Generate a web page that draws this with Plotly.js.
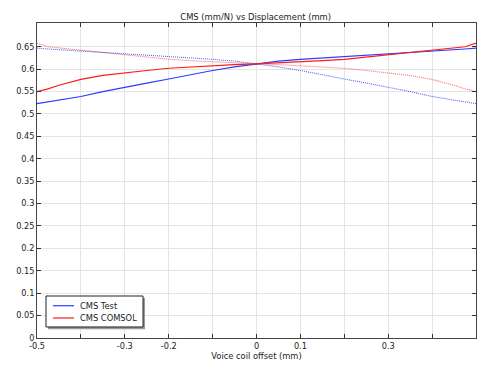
<!DOCTYPE html>
<html><head><meta charset="utf-8">
<script src="https://cdn.plot.ly/plotly-3.0.1.min.js"></script>
<style>html,body{margin:0;padding:0;background:#fff}#chart{width:487px;height:366px}</style>
</head><body><div id="chart"></div>
<script>
const offset = [-0.5,-0.475,-0.45,-0.425,-0.4,-0.35,-0.3,-0.25,-0.2,-0.15,-0.1,-0.05,0,0.05,0.1,0.15,0.2,0.25,0.3,0.35,0.4,0.45,0.475,0.5];
const cmsTest = [0.523,0.527,0.531,0.535,0.539,0.550,0.560,0.569,0.578,0.588,0.597,0.605,0.612,0.618,0.622,0.625,0.628,0.631,0.633,0.636,0.639,0.643,0.645,0.647];
const cmsComsol = [0.550,0.556,0.564,0.571,0.577,0.586,0.592,0.597,0.602,0.605,0.608,0.610,0.612,0.614,0.616,0.619,0.622,0.627,0.632,0.636,0.641,0.646,0.650,0.658];
const seriesNames = ['CMS Test','CMS COMSOL'];
const xTickVals = [-0.5,-0.4,-0.3,-0.2,-0.1,0,0.1,0.2,0.3,0.4,0.5];
const xTickText = ['-0.5','','-0.3','-0.2','','0','0.1','','0.3','',''];
const yTickVals = [0,0.05,0.1,0.15,0.2,0.25,0.3,0.35,0.4,0.45,0.5,0.55,0.6,0.65];
const yTickText = ['0','0.05','0.1','0.15','0.2','0.25','0.3','0.35','0.4','0.45','0.5','0.55','0.6','0.65'];

const mirrorX = offset.map(v => -v);
const blue = '#2a3cff', red = '#ff1a1a';
const colors = [blue, red];
const traces = [
  {x: mirrorX, y: cmsTest, mode:'lines', line:{color:blue, width:1.1, dash:'1px,1px'}, opacity:0.8, showlegend:false, hoverinfo:'skip'},
  {x: mirrorX, y: cmsComsol, mode:'lines', line:{color:red, width:1.1, dash:'1px,1px'}, opacity:0.65, showlegend:false, hoverinfo:'skip'},
  {x: offset, y: cmsTest, mode:'lines', name:seriesNames[0], line:{color:blue, width:1.2}, showlegend:false},
  {x: offset, y: cmsComsol, mode:'lines', name:seriesNames[1], line:{color:red, width:1.2}, showlegend:false}
];
const fam = 'DejaVu Sans, sans-serif';
const fs = 8;
const shapes = [
  {type:'rect', xref:'paper', yref:'paper', x0:0.025, x1:0.246, y0:0.028, y1:0.127, fillcolor:'#9a9a9a', line:{width:0}, layer:'above'},
  {type:'rect', xref:'paper', yref:'paper', x0:0.0205, x1:0.2415, y0:0.035, y1:0.1333, fillcolor:'#fff', line:{color:'#222', width:1}, layer:'above'}
];
const annotations = [];
const rowY = [0.1025, 0.0635];
seriesNames.forEach((n,i)=>{
  shapes.push({type:'line', xref:'paper', yref:'paper', x0:0.0364, x1:0.0843, y0:rowY[i], y1:rowY[i], line:{color:colors[i], width:1.2}, layer:'above'});
  annotations.push({xref:'paper', yref:'paper', x:0.0934, y:rowY[i], xanchor:'left', yanchor:'middle', text:n, showarrow:false, font:{family:fam, size:fs+0.3, color:'#222'}});
});
const layout = {
  width:487, height:366,
  margin:{l:37, r:11, t:23, b:28},
  paper_bgcolor:'#fff', plot_bgcolor:'#fff',
  font:{family:fam, size:fs, color:'#222'},
  showlegend:false,
  title:{text:'CMS (mm/N) vs Displacement (mm)', font:{family:fam, size:fs+0.4, color:'#222'}, x:0.525, xanchor:'center', y:0.953, yanchor:'middle'},
  xaxis:{range:[-0.5,0.5], tickvals:xTickVals, ticktext:xTickText, ticks:'inside', ticklen:4, tickcolor:'#333',
    showgrid:true, gridcolor:'#e4e4e4', zeroline:false, showline:true, linecolor:'#444', linewidth:1, mirror:'ticks',
    tickfont:{size:fs+0.2}, title:{text:'Voice coil offset (mm)', font:{size:fs+0.3}, standoff:3}},
  yaxis:{range:[0,0.703], tickvals:yTickVals, ticktext:yTickText, ticks:'inside', ticklen:4, tickcolor:'#333',
    showgrid:true, gridcolor:'#e4e4e4', zeroline:false, showline:true, linecolor:'#444', linewidth:1, mirror:'ticks',
    tickfont:{size:fs+0.2}},
  shapes: shapes,
  annotations: annotations
};
Plotly.newPlot('chart', traces, layout, {displayModeBar:false, staticPlot:true});
</script></body></html>
